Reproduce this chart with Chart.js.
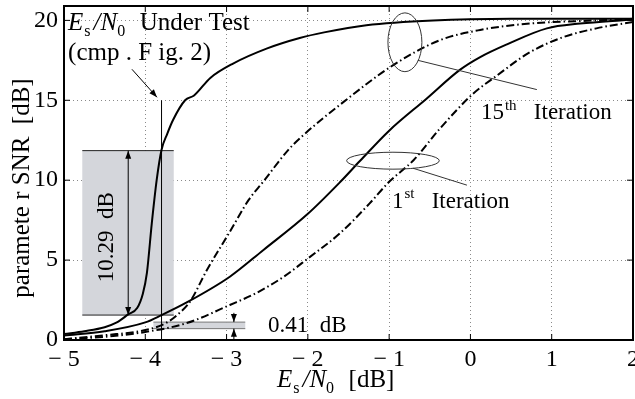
<!DOCTYPE html>
<html>
<head>
<meta charset="utf-8">
<script src="https://cdn.jsdelivr.net/npm/chart.js@4.4.0/dist/chart.umd.min.js"></script>
<style>
html, body { margin: 0; padding: 0; background: #fff; }
#wrap { width: 635px; height: 399px; }
</style>
</head>
<body>
<div id="wrap"><canvas id="snr"></canvas></div>
<script>
"use strict";

const xTicks = [-5, -4, -3, -2, -1, 0, 1, 2];
const yTicks = [0, 5, 10, 15, 20];

// 15th iteration
const iter15SolidX = [-5, -4.75, -4.5, -4.35, -4.21, -4.1, -4.03, -3.98, -3.92, -3.86, -3.8, -3.73, -3.66, -3.51, -3.4, -3.2, -2.92, -2.5, -2.1, -1.8, -1.28, -0.46, 0.5, 2];
const iter15SolidY = [0.37, 0.55, 0.8, 1.1, 1.6, 2.0, 2.9, 4.2, 7.3, 10.0, 11.9, 12.9, 13.75, 15.0, 15.3, 16.4, 17.3, 18.25, 18.9, 19.25, 19.7, 20.0, 20.1, 20.1];
const iter15DashX = [-5, -4.5, -4.0, -3.75, -3.6, -3.45, -3.24, -2.96, -2.73, -2.55, -2.24, -2.06, -1.56, -0.95, -0.38, 0.12, 0.73, 1.55, 2];
const iter15DashY = [0.05, 0.3, 0.62, 1.05, 1.6, 2.4, 4.4, 6.77, 8.75, 9.9, 11.9, 12.8, 14.9, 17.2, 18.75, 19.4, 19.8, 20.0, 20.1];

// 1st iteration
const iter1SolidX = [-5, -4.5, -4.0, -3.8, -3.49, -2.96, -2.55, -2.0, -1.6, -1.36, -1.0, -0.54, -0.13, 0.12, 0.45, 0.94, 1.35, 1.84, 2];
const iter1SolidY = [0.28, 0.55, 1.1, 1.56, 2.35, 3.96, 5.62, 7.9, 9.9, 11.2, 13.1, 15.1, 16.9, 17.7, 18.5, 19.5, 19.8, 20.0, 20.05];
const iter1DashX = [-5, -4.5, -4.0, -3.49, -2.96, -2.63, -2.3, -2.0, -1.6, -1.24, -1.0, -0.7, -0.38, 0.03, 0.3, 0.73, 1.14, 1.55, 2];
const iter1DashY = [0.05, 0.2, 0.5, 1.06, 2.19, 2.95, 3.95, 5.1, 6.7, 8.55, 9.9, 11.25, 13.2, 15.4, 16.45, 18.0, 18.95, 19.5, 19.9];

const FONT = '"Liberation Serif", "Times New Roman", serif';
const dashDot = [8, 3, 1.5, 3];

function toPoints(xs, ys) {
    return xs.map((x, i) => ({ x: x, y: ys[i] }));
}

function line(points, dash) {
    return {
        data: points,
        borderColor: '#000',
        borderWidth: 2,
        borderDash: dash,
        pointRadius: 0,
        fill: false,
        cubicInterpolationMode: 'monotone'
    };
}

function arrowHead(ctx, x1, y1, x2, y2) {
    const a = Math.atan2(y2 - y1, x2 - x1);
    const len = 8, w = 3;
    ctx.beginPath();
    ctx.moveTo(x2, y2);
    ctx.lineTo(x2 - len * Math.cos(a) + w * Math.sin(a), y2 - len * Math.sin(a) - w * Math.cos(a));
    ctx.lineTo(x2 - len * Math.cos(a) - w * Math.sin(a), y2 - len * Math.sin(a) + w * Math.cos(a));
    ctx.closePath();
    ctx.fill();
}

function seg(ctx, x1, y1, x2, y2) {
    ctx.beginPath();
    ctx.moveTo(x1, y1);
    ctx.lineTo(x2, y2);
    ctx.stroke();
}

// text with italic / sub / sup parts
function richText(ctx, x, y, parts, size) {
    let cx = x;
    parts.forEach(p => {
        const s = (p.sub || p.sup) ? Math.round(size * 0.65) : size;
        ctx.font = (p.it ? 'italic ' : '') + s + 'px ' + FONT;
        let dy = 0;
        if (p.sub) dy = size * 0.22;
        if (p.sup) dy = -size * 0.42;
        ctx.fillText(p.t, cx + (p.pre || 0), y + dy);
        cx += ctx.measureText(p.t).width + (p.pre || 0) + (p.post || 0);
    });
}

const annotations = {
    id: 'annotations',
    beforeDatasetsDraw(chart) {
        const ctx = chart.ctx, sx = chart.scales.x, sy = chart.scales.y;
        ctx.save();
        // big grey box
        const l = sx.getPixelForValue(-4.775), r = sx.getPixelForValue(-3.65);
        const t = sy.getPixelForValue(11.85), b = sy.getPixelForValue(1.56);
        ctx.fillStyle = '#d4d6db';
        ctx.fillRect(l, t, r - l, b - t);
        ctx.strokeStyle = '#222';
        ctx.lineWidth = 1;
        seg(ctx, l, t, r, t);
        seg(ctx, l, b, r, b);
        // small band
        const l2 = sx.getPixelForValue(-3.9), r2 = sx.getPixelForValue(-2.77);
        const t2 = sy.getPixelForValue(1.12), b2 = sy.getPixelForValue(0.71);
        ctx.fillStyle = '#d4d6db';
        ctx.fillRect(l2, t2, r2 - l2, b2 - t2);
        ctx.strokeStyle = '#777';
        seg(ctx, l2, t2, r2, t2);
        seg(ctx, l2, b2, r2, b2);
        ctx.restore();
    },
    afterDatasetsDraw(chart) {
        const ctx = chart.ctx, sx = chart.scales.x, sy = chart.scales.y;
        const X = v => sx.getPixelForValue(v), Y = v => sy.getPixelForValue(v);
        const area = chart.chartArea;
        ctx.save();
        ctx.strokeStyle = '#000';
        ctx.fillStyle = '#000';
        ctx.lineWidth = 1;

        // vertical marker line
        seg(ctx, X(-3.8), Y(0), X(-3.8), Y(15));
        // arrow from the note
        seg(ctx, X(-4.164), Y(16.94), X(-3.856), Y(15.19));
        arrowHead(ctx, X(-4.164), Y(16.94), X(-3.856), Y(15.19));
        // 10.29 dB double arrow
        const ax = X(-4.21);
        seg(ctx, ax, Y(1.56), ax, Y(11.85));
        arrowHead(ctx, ax, Y(6), ax, Y(11.85));
        arrowHead(ctx, ax, Y(6), ax, Y(1.56));
        // 0.41 dB arrows
        const bx = X(-2.91);
        seg(ctx, bx, Y(1.7), bx, Y(1.12));
        arrowHead(ctx, bx, Y(1.7), bx, Y(1.12));
        seg(ctx, bx, Y(0), bx, Y(0.71));
        arrowHead(ctx, bx, Y(0), bx, Y(0.71));

        // ellipses and leader lines
        ctx.strokeStyle = '#333';
        ctx.beginPath();
        ctx.ellipse(X(-0.806), Y(18.63), X(-0.806) - X(-1.015), Y(16.79) - Y(18.63), 0, 0, 2 * Math.PI);
        ctx.stroke();
        seg(ctx, X(-0.646), Y(17.5), X(0.817), Y(15.67));
        ctx.beginPath();
        ctx.ellipse(X(-0.953), Y(11.22), X(-0.953) - X(-1.523), Y(10.69) - Y(11.22), 0, 0, 2 * Math.PI);
        ctx.stroke();
        seg(ctx, X(-0.707), Y(10.75), X(-0.043), Y(9.69));

        // texts
        ctx.fillStyle = '#000';
        ctx.textBaseline = 'alphabetic';
        ctx.textAlign = 'left';
        richText(ctx, X(-4.95), Y(19.375), [
            { t: 'E', it: true }, { t: 's', sub: true, pre: 1 }, { t: '/', it: true, pre: 3 },
            { t: 'N', it: true }, { t: '0', sub: true }, { t: '  Under Test', pre: 2 }
        ], 25);
        richText(ctx, X(-4.95), Y(17.5), [{ t: '(cmp . F ig. 2)' }], 25);
        richText(ctx, X(0.129), Y(13.81), [{ t: '15' }, { t: 'th', sup: true, pre: 1 }, { t: '   Iteration' }], 23);
        richText(ctx, X(-0.966), Y(8.25), [{ t: '1' }, { t: 'st', sup: true, pre: 1 }, { t: '   Iteration' }], 23);
        richText(ctx, X(-2.49), Y(0.5), [{ t: '0.41  dB' }], 23);

        ctx.save();
        ctx.translate(X(-4.47), Y(6.44));
        ctx.rotate(-Math.PI / 2);
        ctx.font = '23px ' + FONT;
        ctx.textAlign = 'center';
        ctx.textBaseline = 'middle';
        ctx.fillText('10.29  dB', 0, 0);
        ctx.restore();

        // inward tick marks
        ctx.strokeStyle = '#000';
        ctx.lineWidth = 1;
        xTicks.forEach(v => {
            seg(ctx, X(v), area.bottom, X(v), area.bottom - 6);
            seg(ctx, X(v), area.top, X(v), area.top + 6);
        });
        yTicks.forEach(v => {
            seg(ctx, area.left, Y(v), area.left + 6, Y(v));
            seg(ctx, area.right, Y(v), area.right - 6, Y(v));
        });
        // frame
        ctx.lineWidth = 2;
        ctx.strokeRect(area.left, area.top, area.right - area.left, area.bottom - area.top);
        ctx.restore();
    },
    afterDraw(chart) {
        const ctx = chart.ctx;
        ctx.save();
        ctx.fillStyle = '#000';
        ctx.textBaseline = 'alphabetic';
        ctx.textAlign = 'left';
        richText(ctx, 277, 387, [
            { t: 'E', it: true }, { t: 's', sub: true, pre: 1 }, { t: '/', it: true, pre: 3 },
            { t: 'N', it: true }, { t: '0', sub: true }, { t: '  [dB]', pre: 2 }
        ], 25);
        ctx.translate(22, 188);
        ctx.rotate(-Math.PI / 2);
        ctx.font = '25px ' + FONT;
        ctx.textAlign = 'center';
        ctx.textBaseline = 'middle';
        ctx.fillText('paramete r SNR  [dB]', 0, 0);
        ctx.restore();
    }
};

const ctx = document.getElementById('snr').getContext('2d');

new Chart(ctx, {
    type: 'line',
    data: {
        datasets: [
            line(toPoints(iter15SolidX, iter15SolidY), []),
            line(toPoints(iter15DashX, iter15DashY), dashDot),
            line(toPoints(iter1SolidX, iter1SolidY), []),
            line(toPoints(iter1DashX, iter1DashY), dashDot)
        ]
    },
    options: {
        responsive: true,
        maintainAspectRatio: false,
        animation: false,
        devicePixelRatio: 1,
        layout: { padding: { top: 6, right: 2, left: 0, bottom: 0 } },
        plugins: {
            legend: { display: false },
            tooltip: { enabled: false }
        },
        scales: {
            x: {
                type: 'linear',
                min: -5,
                max: 2,
                afterBuildTicks: s => { s.ticks = xTicks.map(v => ({ value: v })); },
                afterFit: s => { s.height = 59; s.paddingLeft = 0; s.paddingRight = 0; },
                grid: { color: '#8a8a8a', lineWidth: 1, drawTicks: false },
                border: { display: true, color: '#000', width: 2, dash: [1, 3] },
                ticks: {
                    padding: 5,
                    color: '#000',
                    font: { family: FONT, size: 24 },
                    callback: v => v < 0 ? '\u2212 ' + (-v) : String(v)
                }
            },
            y: {
                min: 0,
                max: 20.9,
                afterBuildTicks: s => { s.ticks = yTicks.map(v => ({ value: v })); },
                afterFit: s => { s.width = 64; s.paddingTop = 0; s.paddingBottom = 0; },
                grid: { color: '#8a8a8a', lineWidth: 1, drawTicks: false },
                border: { display: true, color: '#000', width: 2, dash: [1, 3] },
                ticks: {
                    padding: 6,
                    color: '#000',
                    font: { family: FONT, size: 24 }
                }
            }
        }
    },
    plugins: [annotations]
});
</script>
</body>
</html>
